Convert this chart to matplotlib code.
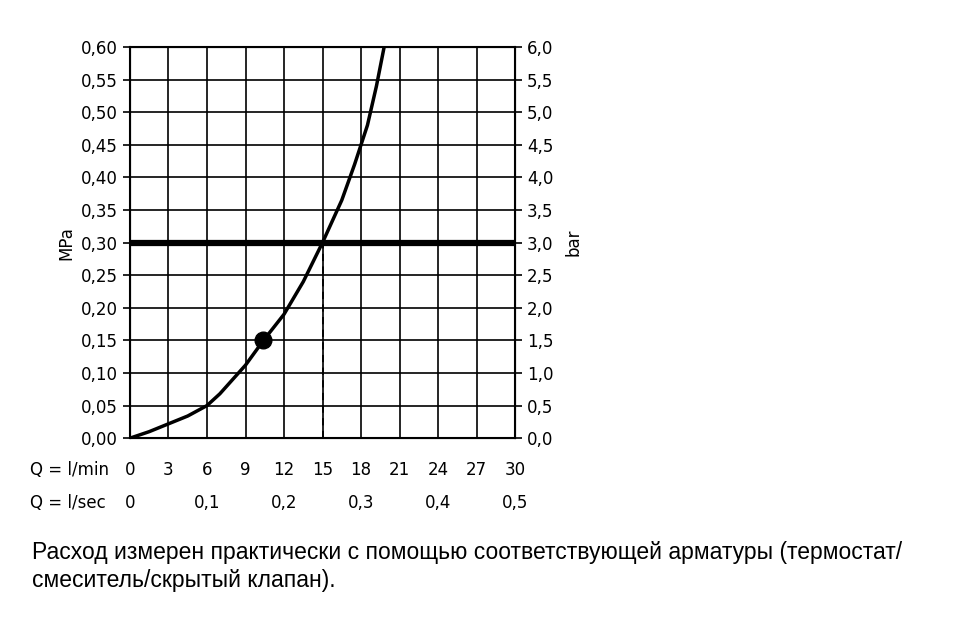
import matplotlib
matplotlib.use("Agg")
import matplotlib.pyplot as plt
import matplotlib.transforms as mtransforms

# flow (l/min) vs pressure (MPa)
flow = [0, 1.5, 3, 4.5, 6, 7, 8, 9, 10.4, 12, 13.5, 15, 16.5, 17.5, 18.5, 19.2, 19.8]
pressure = [0, 0.01, 0.022, 0.034, 0.05, 0.068, 0.09, 0.112, 0.15, 0.19, 0.24,
            0.30, 0.365, 0.42, 0.48, 0.54, 0.60]
point_flow, point_pressure = 10.4, 0.15
limit_pressure = 0.30
limit_flow = 15

lmin_ticks = list(range(0, 31, 3))
lsec_labels = ["0", "0,1", "0,2", "0,3", "0,4", "0,5"]
lsec_pos = [0, 6, 12, 18, 24, 30]
mpa_ticks = [i * 0.05 for i in range(13)]

plt.rcParams["font.family"] = ["DejaVu Sans"]
fig = plt.figure(figsize=(9.7, 6.18), dpi=100)
ax = fig.add_axes([0.134, 0.291, 0.397, 0.633])

ax.set_xlim(0, 30)
ax.set_ylim(0, 0.60)
ax.set_xticks(lmin_ticks)
ax.set_yticks(mpa_ticks)
ax.set_yticklabels([f"{v:.2f}".replace(".", ",") for v in mpa_ticks], fontsize=12)
ax.set_xticklabels([])
ax.tick_params(axis="x", length=0)
ax.tick_params(axis="y", direction="out", length=5, width=1.2)
ax.grid(True, color="black", linewidth=1.2)
for s in ax.spines.values():
    s.set_linewidth(1.5)

ax2 = ax.twinx()
ax2.set_ylim(0, 6.0)
bar_ticks = [i * 0.5 for i in range(13)]
ax2.set_yticks(bar_ticks)
ax2.set_yticklabels([f"{v:.1f}".replace(".", ",") for v in bar_ticks], fontsize=12)
ax2.tick_params(axis="y", direction="out", length=5, width=1.2)

ax.plot(flow, pressure, color="black", lw=2.5, solid_capstyle="round", zorder=4)
ax.axhline(limit_pressure, color="black", lw=4.5, zorder=3)
ax.plot([limit_flow, limit_flow], [0, limit_pressure], color="black", lw=1.3,
        ls=(0, (4, 3)), zorder=5)
ax.plot(point_flow, point_pressure, "o", color="black", ms=12, zorder=6)

ax.set_ylabel("MPa", fontsize=12, labelpad=4)
ax2.set_ylabel("bar", fontsize=12, rotation=90, labelpad=8)

tr = mtransforms.blended_transform_factory(ax.transData, fig.transFigure)
for t in lmin_ticks:
    ax.text(t, 1 - 470 / 618, str(t), transform=tr, ha="center", va="center", fontsize=12)
for p, lab in zip(lsec_pos, lsec_labels):
    ax.text(p, 1 - 503 / 618, lab, transform=tr, ha="center", va="center", fontsize=12)
fig.text(30 / 970, 1 - 470 / 618, "Q = l/min", ha="left", va="center", fontsize=12)
fig.text(30 / 970, 1 - 503 / 618, "Q = l/sec", ha="left", va="center", fontsize=12)

fig.text(32 / 970, 1 - 552 / 618,
         "Расход измерен практически с помощью соответствующей арматуры (термостат/",
         ha="left", va="center", fontsize=16.5, family="Liberation Sans")
fig.text(32 / 970, 1 - 580 / 618, "смеситель/скрытый клапан).",
         ha="left", va="center", fontsize=16.5, family="Liberation Sans")

fig.savefig("out.png", dpi=100)
